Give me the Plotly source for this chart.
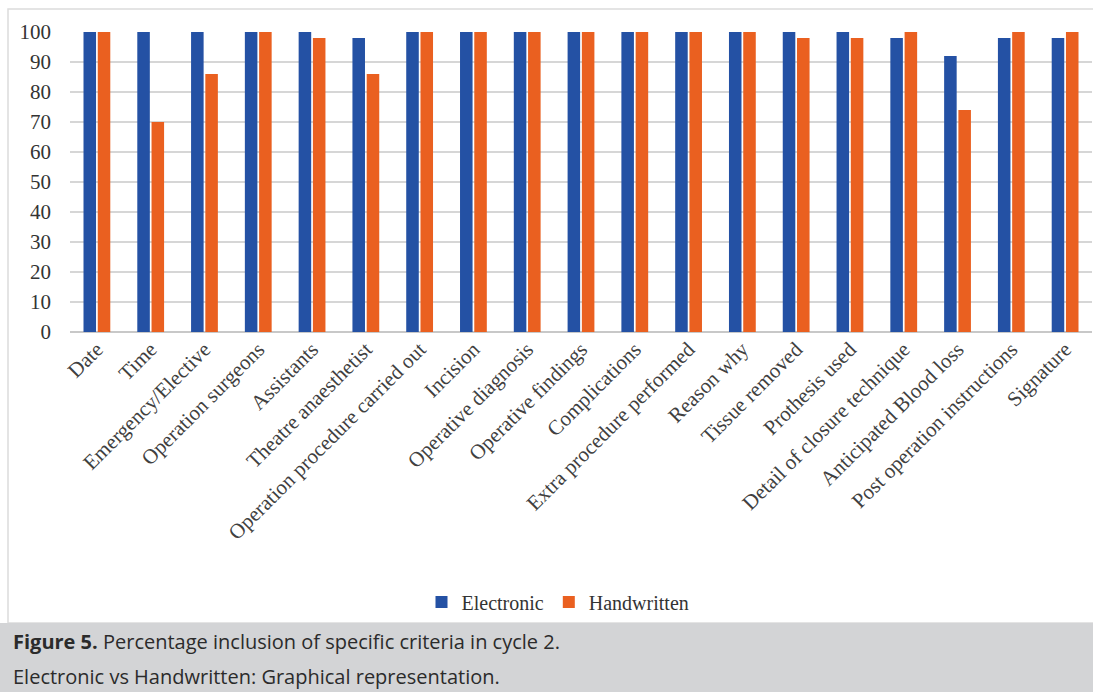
import plotly.graph_objects as go

categories = ["Date", "Time", "Emergency/Elective", "Operation surgeons", "Assistants",
              "Theatre anaesthetist", "Operation procedure carried out", "Incision",
              "Operative diagnosis", "Operative findings", "Complications",
              "Extra procedure performed", "Reason why", "Tissue removed", "Prothesis used",
              "Detail of closure technique", "Anticipated Blood loss",
              "Post operation instructions", "Signature"]
electronic = [100, 100, 100, 100, 100, 98, 100, 100, 100, 100, 100, 100, 100, 100, 100, 98, 92, 98, 98]
handwritten = [100, 70, 86, 100, 98, 86, 100, 100, 100, 100, 100, 100, 100, 98, 98, 100, 74, 100, 100]
y_ticks = [0, 10, 20, 30, 40, 50, 60, 70, 80, 90, 100]

W, H = 1093, 692
L, R, T, B = 70, 1, 32, 360
pw = W - L - R
ph = H - T - B

def px(p):
    return (p - L) / pw

def py(p):
    return (H - B - p) / ph

fig = go.Figure()
fig.add_trace(go.Bar(name="Electronic", x=categories, y=electronic, marker_color="#2451A4",
                     marker_line_width=0))
fig.add_trace(go.Bar(name="Handwritten", x=categories, y=handwritten, marker_color="#EA6020",
                     marker_line_width=0))

serif = "Liberation Serif"

fig.update_layout(
    width=W, height=H,
    margin=dict(l=L, r=R, t=T, b=B, pad=0),
    paper_bgcolor="white", plot_bgcolor="white",
    font=dict(family=serif),
    barmode="group", bargap=0.47, bargroupgap=0.12,
    showlegend=True,
    legend=dict(orientation="h", x=px(558), xanchor="center", y=py(602), yanchor="middle",
                font=dict(family=serif, size=20, color="#333333"),
                itemwidth=30, traceorder="normal", bgcolor="rgba(0,0,0,0)"),
    xaxis=dict(tickangle=-45, tickfont=dict(family=serif, size=21, color="#404040"),
               showgrid=False, showline=False, ticks="", zeroline=False),
    yaxis=dict(range=[0, 100], tickvals=y_ticks, tickfont=dict(family=serif, size=21, color="#333333"),
               showgrid=True, gridcolor="#d6d6d6", gridwidth=1.5, zeroline=True,
               zerolinecolor="#c8c8c8", zerolinewidth=1.5, showline=False, ticks="",
               ticklabelstandoff=18),
)

shapes = [
    # chart border box
    dict(type="rect", xref="paper", yref="paper", x0=px(8), x1=px(1100), y0=py(623), y1=py(9),
         line=dict(color="#dcdcdc", width=1.5), fillcolor="rgba(0,0,0,0)", layer="below"),
    # caption background
    dict(type="rect", xref="paper", yref="paper", x0=px(-5), x1=px(1100), y0=py(700), y1=py(623),
         line=dict(width=0), fillcolor="#d3d4d6", layer="below"),
]
fig.update_layout(shapes=shapes)

cap_font = "Open Sans"
fig.add_annotation(xref="paper", yref="paper", x=px(11), y=py(641), xanchor="left", yanchor="middle",
                   showarrow=False, align="left",
                   text="<b>Figure 5.</b> Percentage inclusion of specific criteria in cycle 2.",
                   font=dict(family=cap_font, size=20, color="#2b2b2b"))
fig.add_annotation(xref="paper", yref="paper", x=px(11), y=py(676), xanchor="left", yanchor="middle",
                   showarrow=False, align="left",
                   text="Electronic vs Handwritten: Graphical representation.",
                   font=dict(family=cap_font, size=20, color="#2b2b2b"))

fig.write_html("out.html")
